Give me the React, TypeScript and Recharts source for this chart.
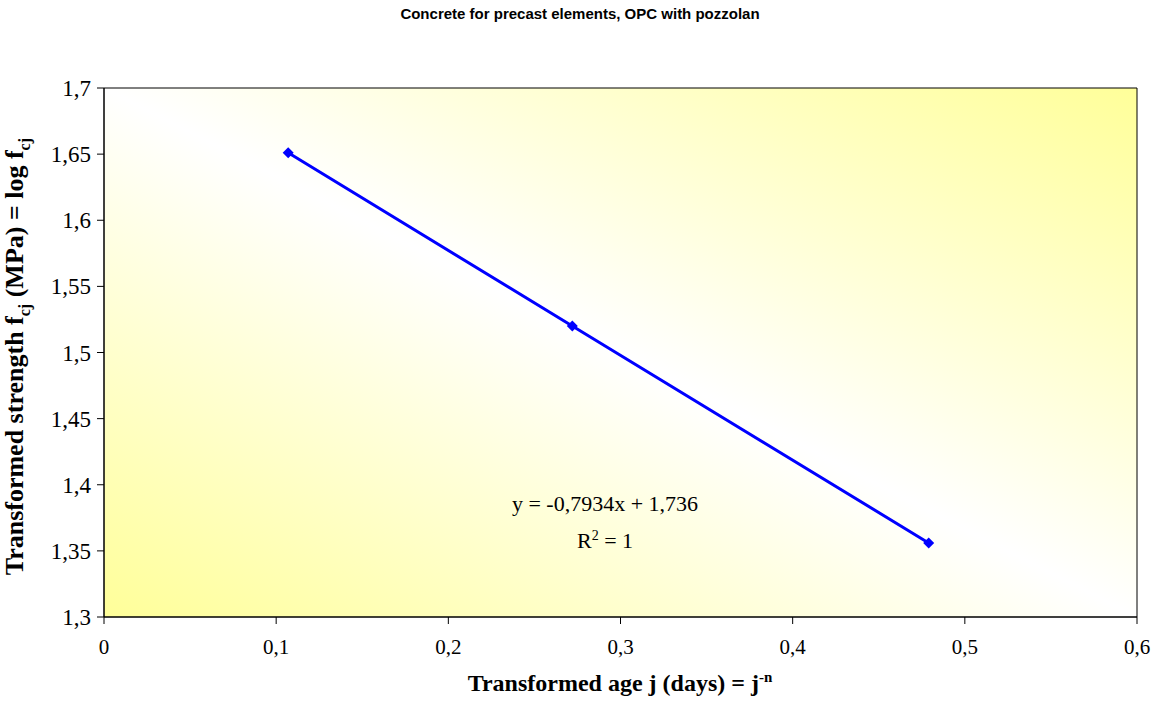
import { LineChart, Line, XAxis, YAxis, ReferenceArea } from "recharts";

const ageX = [0.107, 0.272, 0.479];
const strengthY = [1.651, 1.52, 1.356];
const xTicks = [0, 0.1, 0.2, 0.3, 0.4, 0.5, 0.6];
const yTicks = [1.3, 1.35, 1.4, 1.45, 1.5, 1.55, 1.6, 1.65, 1.7];

const data = ageX.map((x, i) => ({ x, y: strengthY[i] }));

const SERIF = "'Liberation Serif', 'Times New Roman', serif";
const fmt = (v: number) => String(v).replace(".", ",");

const Diamond = (props: any) => {
  const { cx, cy } = props;
  if (cx == null || cy == null) return null;
  const s = 5.5;
  return <path d={`M${cx},${cy - s}L${cx + s},${cy}L${cx},${cy + s}L${cx - s},${cy}Z`} fill="#0000ff" />;
};

const XTick = (props: any) => {
  const { x, y, payload } = props;
  return (
    <text x={x} y={y + 22} textAnchor="middle" fontFamily={SERIF} fontSize={21} fill="#000">
      {fmt(payload.value)}
    </text>
  );
};

const YTick = (props: any) => {
  const { x, y, payload } = props;
  return (
    <text x={x} y={y + 8} textAnchor="end" fontFamily={SERIF} fontSize={23} fill="#000">
      {fmt(payload.value)}
    </text>
  );
};

export default function App() {
  return (
    <div style={{ position: "absolute", left: 0, top: 0, width: 1159, height: 706, background: "#fff" }}>
      <div
        style={{
          position: "absolute",
          top: 5,
          left: 580 - 300,
          width: 600,
          textAlign: "center",
          fontFamily: "Arial, 'Liberation Sans', sans-serif",
          fontWeight: "bold",
          fontSize: 15,
        }}
      >
        Concrete for precast elements, OPC with pozzolan
      </div>
      <LineChart width={1159} height={706} data={data} margin={{ top: 88, right: 22, bottom: 29, left: 0 }}>
        <defs>
          <linearGradient id="bg" x1="0" y1="1" x2="1" y2="0">
            <stop offset="0%" stopColor="#ffff99" />
            <stop offset="50%" stopColor="#ffffff" />
            <stop offset="100%" stopColor="#ffff99" />
          </linearGradient>
        </defs>
        <ReferenceArea x1={0} x2={0.6} y1={1.3} y2={1.7} fill="url(#bg)" fillOpacity={1} stroke="#000" strokeWidth={1} />
        <XAxis
          type="number"
          dataKey="x"
          domain={[0, 0.6]}
          ticks={xTicks}
          height={60}
          tickSize={7}
          tickMargin={8}
          stroke="#000"
          tick={<XTick />}
        />
        <YAxis
          type="number"
          dataKey="y"
          domain={[1.3, 1.7]}
          ticks={yTicks}
          width={104}
          tickSize={7}
          tickMargin={6}
          stroke="#000"
          tick={<YTick />}
        />
        <Line
          dataKey="y"
          stroke="#0000ff"
          strokeWidth={3}
          dot={<Diamond />}
          activeDot={false}
          isAnimationActive={false}
        />
      </LineChart>
      <div
        style={{
          position: "absolute",
          left: 620 - 250,
          width: 500,
          top: 669,
          textAlign: "center",
          fontFamily: SERIF,
          fontWeight: "bold",
          fontSize: 24,
        }}
      >
        Transformed age j (days) = j<sup style={{ fontSize: 15 }}>-n</sup>
      </div>
      <div
        style={{
          position: "absolute",
          left: 20 - 300,
          top: 352 - 16,
          width: 600,
          textAlign: "center",
          transform: "rotate(-90deg)",
          fontFamily: SERIF,
          fontWeight: "bold",
          fontSize: 26,
          lineHeight: "32px",
          whiteSpace: "nowrap",
        }}
      >
        Transformed strength f<sub style={{ fontSize: 16 }}>cj</sub> (MPa) = log f<sub style={{ fontSize: 16 }}>cj</sub>
      </div>
      <div
        style={{
          position: "absolute",
          left: 605 - 150,
          width: 300,
          top: 488,
          textAlign: "center",
          fontFamily: SERIF,
          fontSize: 22,
          lineHeight: "32px",
        }}
      >
        <div>y = -0,7934x + 1,736</div>
        <div>
          R<sup style={{ fontSize: 14, verticalAlign: "8px" }}>2</sup> = 1
        </div>
      </div>
    </div>
  );
}
